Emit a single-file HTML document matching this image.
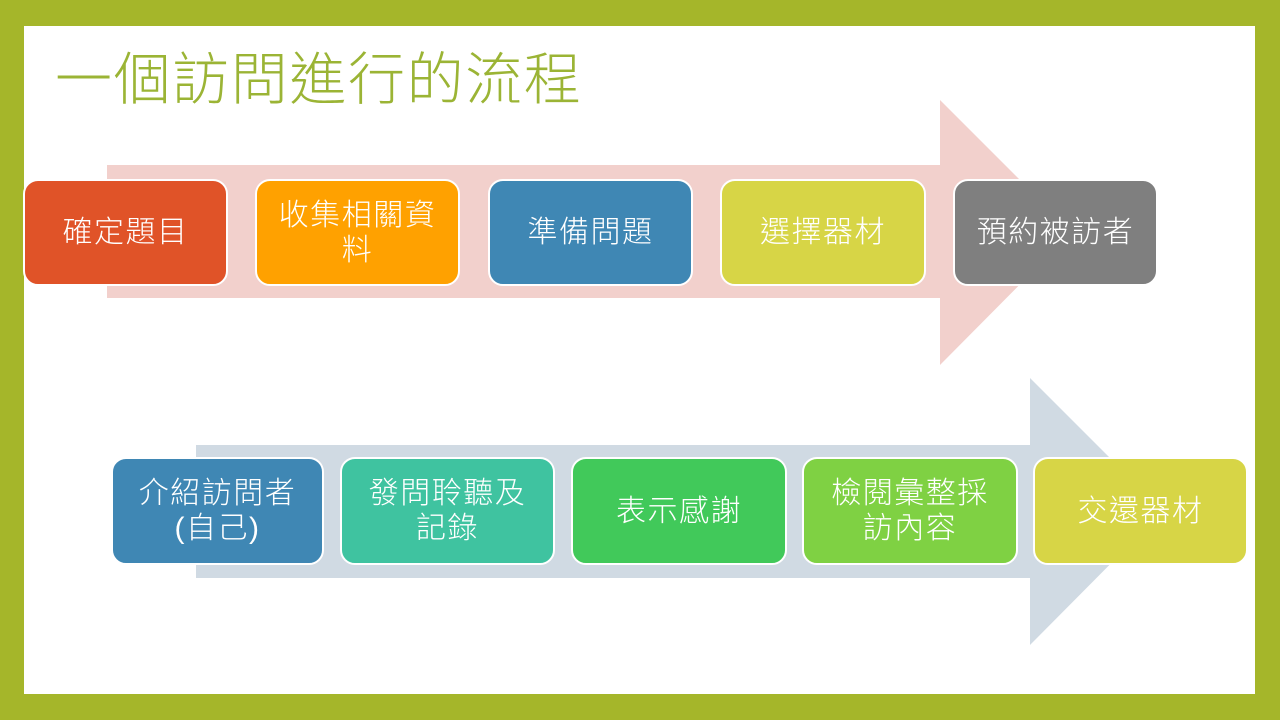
<!DOCTYPE html>
<html><head><meta charset="utf-8"><style>
body{margin:0;width:1280px;height:720px;background:#a5b62a;position:relative;overflow:hidden;font-family:"Liberation Sans","Noto Sans CJK TC",sans-serif}
#w{position:absolute;left:24px;top:26px;width:1231px;height:668px;background:#fff}
h1{position:absolute;left:55px;top:44px;margin:0;font-weight:300;font-size:57px;line-height:72px;color:#9bb435;letter-spacing:1.6px;white-space:nowrap}
.b{position:absolute;box-sizing:border-box;border:2px solid #fff;border-radius:15px;color:#fff;font-size:30px;line-height:35px;letter-spacing:1.5px;font-weight:300;display:flex;align-items:center;justify-content:center;text-align:center;padding:0 6px}
svg{position:absolute;left:0;top:0}
</style></head><body>
<div id="w"></div>
<h1>一個訪問進行的流程</h1>
<svg width="1280" height="720">
<polygon points="107,165 940,165 940,100 1072,232 940,365 940,298 107,298" fill="#f2d0cc"/>
<polygon points="196,445 1030,445 1030,378 1163,511 1030,645 1030,578 196,578" fill="#d0dae3"/>
</svg>
<div class="b" style="left:23px;top:179px;width:205px;height:107px;background:#e05328">確定題目</div>
<div class="b" style="left:255px;top:179px;width:205px;height:107px;background:#ffa100">收集相關資<br>料</div>
<div class="b" style="left:488px;top:179px;width:205px;height:107px;background:#3f87b4">準備問題</div>
<div class="b" style="left:720px;top:179px;width:206px;height:107px;background:#d7d546">選擇器材</div>
<div class="b" style="left:953px;top:179px;width:205px;height:107px;background:#7f7f7f">預約被訪者</div>
<div class="b" style="left:111px;top:457px;width:213px;height:108px;background:#3f87b4">介紹訪問者<br>(自己)</div>
<div class="b" style="left:340px;top:457px;width:215px;height:108px;background:#3fc3a0">發問聆聽及<br>記錄</div>
<div class="b" style="left:571px;top:457px;width:216px;height:108px;background:#41c95a">表示感謝</div>
<div class="b" style="left:802px;top:457px;width:216px;height:108px;background:#7fd143">檢閱彙整採<br>訪內容</div>
<div class="b" style="left:1033px;top:457px;width:215px;height:108px;background:#d7d546">交還器材</div>
</body></html>
